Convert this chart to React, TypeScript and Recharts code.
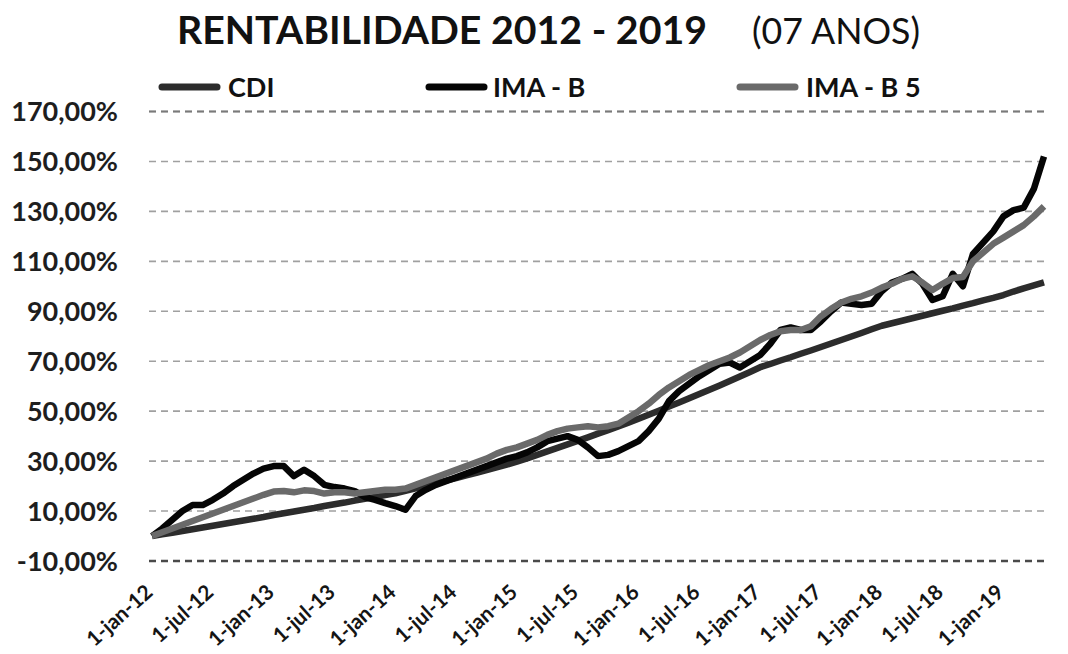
import React from "react";
import { LineChart, Line, XAxis, YAxis, CartesianGrid, ReferenceLine } from "recharts";

// Cumulative return (%) per month, Jan 2012 .. May 2019
const cdi = [
  0.0, 0.7, 1.3, 2.0, 2.7, 3.4, 4.1, 4.8, 5.5, 6.2, 6.9, 7.6,
  8.4, 9.1, 9.8, 10.5, 11.2, 12.0, 12.7, 13.4, 14.2, 14.9, 15.6, 16.4,
  17.1, 18.1, 19.1, 20.1, 21.1, 22.2, 23.2, 24.3, 25.3, 26.4, 27.5, 28.6,
  29.8, 31.1, 32.5, 33.9, 35.3, 36.7, 38.1, 39.5, 41.0, 42.4, 43.9, 45.4,
  47.0, 48.6, 50.2, 51.9, 53.5, 55.2, 56.9, 58.6, 60.3, 62.1, 63.9, 65.7,
  67.6, 68.9, 70.3, 71.6, 73.0, 74.3, 75.7, 77.1, 78.5, 79.9, 81.3, 82.8,
  84.2, 85.2, 86.2, 87.2, 88.2, 89.2, 90.2, 91.2, 92.3, 93.3, 94.4, 95.4,
  96.5, 97.9, 99.2, 100.4, 101.6,
];

const imaB = [
  0.0, 3.0, 6.5, 10.0, 12.4, 12.4, 14.5, 17.0, 20.0, 22.5, 25.0, 27.0,
  28.0, 28.0, 24.0, 26.5, 24.0, 20.5, 19.6, 19.0, 18.0, 15.6, 14.5, 13.2,
  12.0, 10.5, 16.0, 18.5, 20.5, 22.0, 23.5, 25.0, 26.5, 28.0, 29.5, 31.0,
  32.0, 33.5, 35.5, 38.0, 39.0, 40.0, 38.5, 35.5, 32.0, 32.5, 34.0, 36.0,
  38.0, 42.0, 47.0, 54.0, 58.0, 61.0, 64.0, 66.5, 69.0, 69.5, 67.5, 70.0,
  72.5, 77.0, 82.5, 83.5, 82.5, 82.5, 86.0, 90.0, 93.5, 93.0, 92.5, 93.0,
  98.0, 101.5, 103.0, 105.0, 101.0, 94.5, 96.0, 105.0, 100.0, 113.0, 117.5, 122.0,
  128.0, 130.5, 131.5, 139.0, 152.0,
];

const imaB5 = [
  0.0, 1.5, 3.0, 4.5, 6.0, 7.5, 9.0, 10.5, 12.0, 13.5, 15.0, 16.5,
  17.8, 18.0, 17.5, 18.3, 18.0, 17.0, 17.5, 17.5, 17.0, 17.5, 18.0, 18.5,
  18.5, 19.0, 20.5, 22.0, 23.5, 25.0, 26.5, 28.0, 29.5, 31.0, 33.0, 34.5,
  35.5, 37.0, 38.5, 40.5, 42.0, 43.0, 43.5, 44.0, 43.5, 44.0, 45.0, 47.5,
  50.0, 53.0, 56.5, 59.5, 62.0, 64.5, 66.5, 68.5, 70.0, 71.5, 73.5, 76.0,
  78.5, 80.5, 82.0, 82.5, 82.5, 84.0, 88.0, 91.0, 93.5, 95.0, 96.0, 97.5,
  99.5, 101.0, 103.0, 104.0, 101.5, 98.5, 101.0, 103.3, 103.7, 110.0, 113.5, 117.0,
  119.5, 122.0, 124.5, 128.0, 132.0,
];

const xTickLabels = [
  "1-jan-12", "1-jul-12", "1-jan-13", "1-jul-13", "1-jan-14", "1-jul-14", "1-jan-15",
  "1-jul-15", "1-jan-16", "1-jul-16", "1-jan-17", "1-jul-17", "1-jan-18", "1-jul-18", "1-jan-19",
];
const xTickMonths = [0, 6, 12, 18, 24, 30, 36, 42, 48, 54, 60, 66, 72, 78, 84];
const yTicks = [-10, 10, 30, 50, 70, 90, 110, 130, 150, 170];

const seriesNames = ["CDI", "IMA - B", "IMA - B 5"];
const seriesColors = ["#2c2c2c", "#050505", "#6a6a6a"];

const data = cdi.map((v, i) => ({ m: i, cdi: v, imaB: imaB[i], imaB5: imaB5[i] }));

const FONT = "Lato, 'DejaVu Sans', sans-serif";

const XTick = (props: any) => {
  const { x, y, payload } = props;
  const idx = xTickMonths.indexOf(payload.value);
  return (
    <g transform={`translate(${x + 2},${y + 25}) rotate(-42)`}>
      <text
        x={0}
        y={0}
        textAnchor="end"
        fontFamily={FONT}
        fontWeight={700}
        fontSize={21}
        fill="#151515"
      >
        {xTickLabels[idx]}
      </text>
    </g>
  );
};

const legendX = [162, 429, 740];
const legendTextX = [228, 493, 806];

export default function App() {
  return (
    <div style={{ position: "absolute", left: 0, top: 0, width: 1068, height: 654, background: "#fff", fontFamily: FONT }}>
      <div style={{ position: "absolute", left: 0, top: 0 }}>
        <LineChart width={1068} height={654} data={data} margin={{ top: 111.5, right: 22, bottom: 33, left: 0 }}>
          <CartesianGrid vertical={false} stroke="#a0a0a0" strokeDasharray="7 5" strokeWidth={1.6} />
          <ReferenceLine y={170} stroke="#7a7a7a" strokeDasharray="7 5" strokeWidth={2} />
          <ReferenceLine y={-10} stroke="#4a4a4a" strokeDasharray="7 5" strokeWidth={2.5} />
          <XAxis
            type="number"
            dataKey="m"
            domain={[-0.3, 88.2]}
            ticks={xTickMonths}
            interval={0}
            axisLine={false}
            tickLine={false}
            height={60}
            tick={<XTick />}
          />
          <YAxis
            type="number"
            domain={[-10, 170]}
            ticks={yTicks}
            interval={0}
            width={149}
            axisLine={false}
            tickLine={false}
            tickSize={0}
            tickMargin={31}
            tickFormatter={(v: number) => `${v},00%`}
            tick={{ fontFamily: FONT, fontWeight: 700, fontSize: 27, fill: "#1e1e1e" }}
          />
          <Line type="linear" dataKey="cdi" name={seriesNames[0]} stroke={seriesColors[0]} strokeWidth={6.5} dot={false} isAnimationActive={false} strokeLinejoin="round" />
          <Line type="linear" dataKey="imaB" name={seriesNames[1]} stroke={seriesColors[1]} strokeWidth={6.5} dot={false} isAnimationActive={false} strokeLinejoin="round" />
          <Line type="linear" dataKey="imaB5" name={seriesNames[2]} stroke={seriesColors[2]} strokeWidth={6.5} dot={false} isAnimationActive={false} strokeLinejoin="round" />
        </LineChart>
      </div>
      <svg width={1068} height={110} style={{ position: "absolute", left: 0, top: 0 }}>
        <text x={177} y={44} fontFamily={FONT} fontWeight={700} fontSize={38} fill="#111" textLength={530} lengthAdjust="spacingAndGlyphs">
          RENTABILIDADE 2012 - 2019
        </text>
        <text x={752} y={44} fontFamily={FONT} fontWeight={400} fontSize={36} fill="#111" textLength={168} lengthAdjust="spacingAndGlyphs">
          (07 ANOS)
        </text>
        {seriesNames.map((n, i) => (
          <g key={n}>
            <line x1={legendX[i]} y1={87} x2={legendX[i] + 55} y2={87} stroke={seriesColors[i]} strokeWidth={7} strokeLinecap="round" />
            <text x={legendTextX[i]} y={97} fontFamily={FONT} fontWeight={700} fontSize={27} fill="#111">
              {n}
            </text>
          </g>
        ))}
      </svg>
    </div>
  );
}
